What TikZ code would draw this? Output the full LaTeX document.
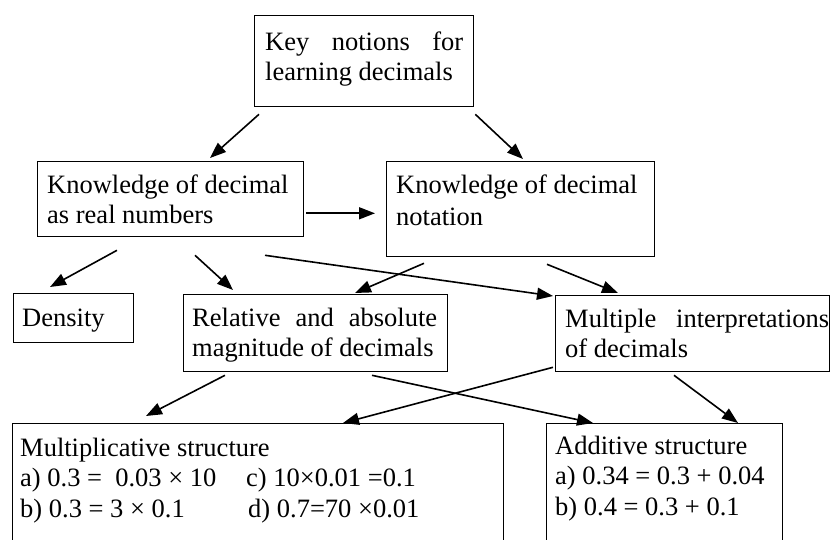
\documentclass[tikz,border=0pt]{standalone}
\usepackage{fontspec}
\setmainfont{Liberation Serif}
\usetikzlibrary{arrows.meta}
\newcommand\tstr{\rule{0pt}{20pt}}
\begin{document}
\begin{tikzpicture}[x=1pt,y=-1pt,
  box/.style={draw=black, line width=1.3pt, inner sep=0pt, anchor=north west},
  txt/.style={inner sep=0pt, anchor=north west, font=\fontsize{26.5}{30.5}\selectfont},
  arr/.style={line width=1.6pt, -{Triangle[length=16pt,width=12pt]}}]
\useasboundingbox (0,0) rectangle (831,540);
% boxes
\node[box, minimum width=219pt, minimum height=91pt] (key) at (254,15) {};
\node[box, minimum width=266pt, minimum height=75pt] (real) at (37,161) {};
\node[box, minimum width=268pt, minimum height=95pt] (nota) at (386,161) {};
\node[box, minimum width=120pt, minimum height=49pt] (dens) at (13,293) {};
\node[box, minimum width=264pt, minimum height=77pt] (rel) at (183,294) {};
\node[box, minimum width=274pt, minimum height=76pt] (mult) at (555,295) {};
\node[box, minimum width=491pt, minimum height=140pt] (mul) at (12,423) {};
\node[box, minimum width=236pt, minimum height=140pt] (add) at (546,423) {};
% texts
\node[txt, text width=198pt, align=justify] (keyt) at (265,30) {\tstr Key notions for learning decimals};
\node[txt, align=left] (realt) at (47,173) {\tstr Knowledge of decimal\\as real numbers};
\node[txt, align=left] (notat) at (396,173) {\tstr Knowledge of decimal\\[1.5pt]notation};
\node[txt] (denst) at (22,306) {\tstr Density};
\node[txt, text width=245pt, align=justify] (relt) at (192,306) {\tstr Relative and absolute magnitude of decimals};
\node[txt, text width=264pt, align=justify] (multt) at (565,307) {\tstr Multiple interpretations of decimals};
\node[txt, align=left] (mult2) at (20,436) {\tstr Multiplicative structure\\
  \makebox[226pt][l]{a) 0.3 =\ \ 0.03 × 10}c) 10×0.01 =0.1\\
  \makebox[228pt][l]{b) 0.3 = 3 × 0.1}d) 0.7=70 ×0.01};
\node[txt, align=left] (addt) at (555,434) {\tstr Additive structure\\a) 0.34 = 0.3 + 0.04\\b) 0.4 = 0.3 + 0.1};
% arrows
\draw[arr] ([shift={(5,7)}]key.south west) -- ([shift={(173,-3)}]real.north west);
\draw[arr] ([shift={(1,7)}]key.south east) -- ([shift={(137,-2)}]nota.north west);
\draw[arr] ([shift={(2,-24)}]real.south east) -- ([shift={(-11,-44)}]nota.south west);
\draw[arr] ([shift={(80,13)}]real.south west) -- ([shift={(37,-6)}]dens.north west);
\draw[arr] ([shift={(158,18)}]real.south west) -- ([shift={(50,-4)}]rel.north west);
\draw[arr] ([shift={(228,18)}]real.south west) -- ([shift={(-2,1)}]mult.north west);
\draw[arr] ([shift={(38,6)}]nota.south west) -- ([shift={(172,-1)}]rel.north west);
\draw[arr] ([shift={(161,7)}]nota.south west) -- ([shift={(63,-2)}]mult.north west);
\draw[arr] ([shift={(42,3)}]rel.south west) -- ([shift={(134,-7)}]mul.north west);
\draw[arr] ([shift={(189,3)}]rel.south west) -- ([shift={(47,0)}]add.north west);
\draw[arr] ([shift={(-2,-5)}]mult.south west) -- ([shift={(331,0)}]mul.north west);
\draw[arr] ([shift={(119,3)}]mult.south west) -- ([shift={(192,0)}]add.north west);
\end{tikzpicture}
\end{document}
